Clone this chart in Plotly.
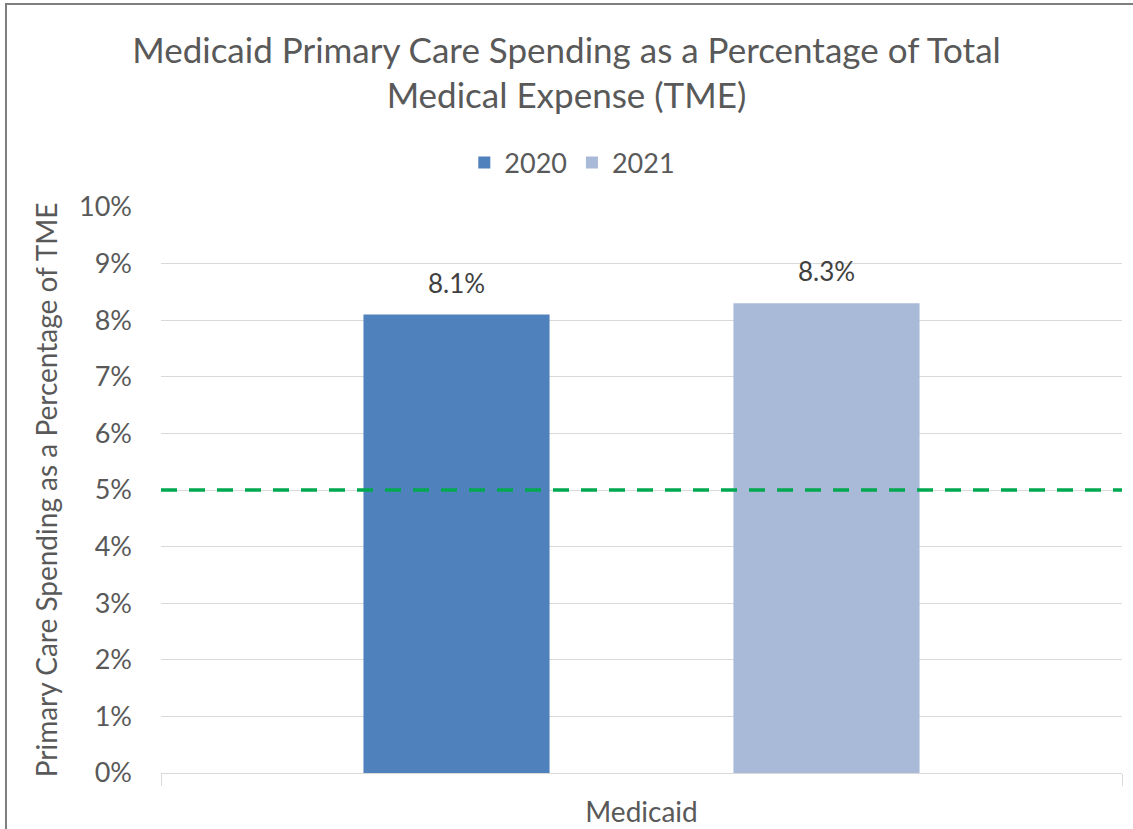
import plotly.graph_objects as go

categories = ["Medicaid"]
years = ["2020", "2021"]
values_2020 = [0.081]
values_2021 = [0.083]
target_value = 0.05
colors = {"2020": "#4F81BD", "2021": "#A9BAD8"}

FONT = "Lato, Open Sans, sans-serif"
GRAY = "#595959"

fig = go.Figure()
for yr, vals in zip(years, [values_2020, values_2021]):
    fig.add_trace(go.Bar(
        x=categories, y=vals, name=yr, offsetgroup=yr,
        marker=dict(color=colors[yr], line=dict(width=0)),
        cliponaxis=False,
    ))

# data labels above bars (positioned from data)
for i, (yr, vals) in enumerate(zip(years, [values_2020, values_2021])):
    for cat, v in zip(categories, vals):
        fig.add_annotation(x=cat, y=v, text=f"{v*100:.1f}%", showarrow=False,
                           xref="x", yref="y", yanchor="bottom", yshift=14,
                           xshift=(-185 if i == 0 else 185),
                           font=dict(size=26, color="#404040", family=FONT))

fig.add_shape(type="line", xref="paper", yref="y", x0=0, x1=1,
              y0=target_value, y1=target_value,
              line=dict(color="#00A84F", width=3.5, dash="16px,12px"), layer="above")

# chart border
fig.add_shape(type="rect", xref="paper", yref="paper",
              x0=-0.1613, x1=1.05, y0=-0.2, y1=1.3587,
              line=dict(color="#7F7F7F", width=2), layer="below")

fig.update_layout(
    width=1133, height=829,
    paper_bgcolor="white", plot_bgcolor="white",
    margin=dict(l=161, r=11, t=207, b=56, autoexpand=False),
    font=dict(family=FONT, color=GRAY),
    title=dict(text="Medicaid Primary Care Spending as a Percentage of Total<br>Medical Expense (TME)",
               x=0.5, xanchor="center", y=0.9246, yanchor="middle", yref="container",
               font=dict(size=35, color=GRAY, family=FONT)),
    legend=dict(orientation="h", x=0.428, xanchor="center", y=1.078, yanchor="middle",
                font=dict(size=27, color=GRAY, family=FONT), traceorder="normal"),
    bargap=0.23, bargroupgap=0.497,
    barmode="group",
    showlegend=True,
)
fig.update_yaxes(range=[0, 0.1], dtick=0.01, tickformat=".0%", automargin=False,
                 gridcolor="#D9D9D9", gridwidth=1.3, zeroline=False,
                 showline=False, ticks="", ticklen=0, ticklabelstandoff=28,
                 tickfont=dict(size=27, color=GRAY, family=FONT),
                 title=dict(text="Primary Care Spending as a Percentage of TME",
                            font=dict(size=28, color=GRAY, family=FONT), standoff=13))
fig.update_xaxes(showline=True, linecolor="#D9D9D9", linewidth=1.3, automargin=False,
                 ticks="outside", tickson="boundaries", ticklen=12, tickcolor="#D9D9D9",
                 ticklabelstandoff=14,
                 tickfont=dict(size=28, color=GRAY, family=FONT))

fig.write_html("out.html", config={"displayModeBar": False},
               post_script="document.body.style.margin='0px';")
